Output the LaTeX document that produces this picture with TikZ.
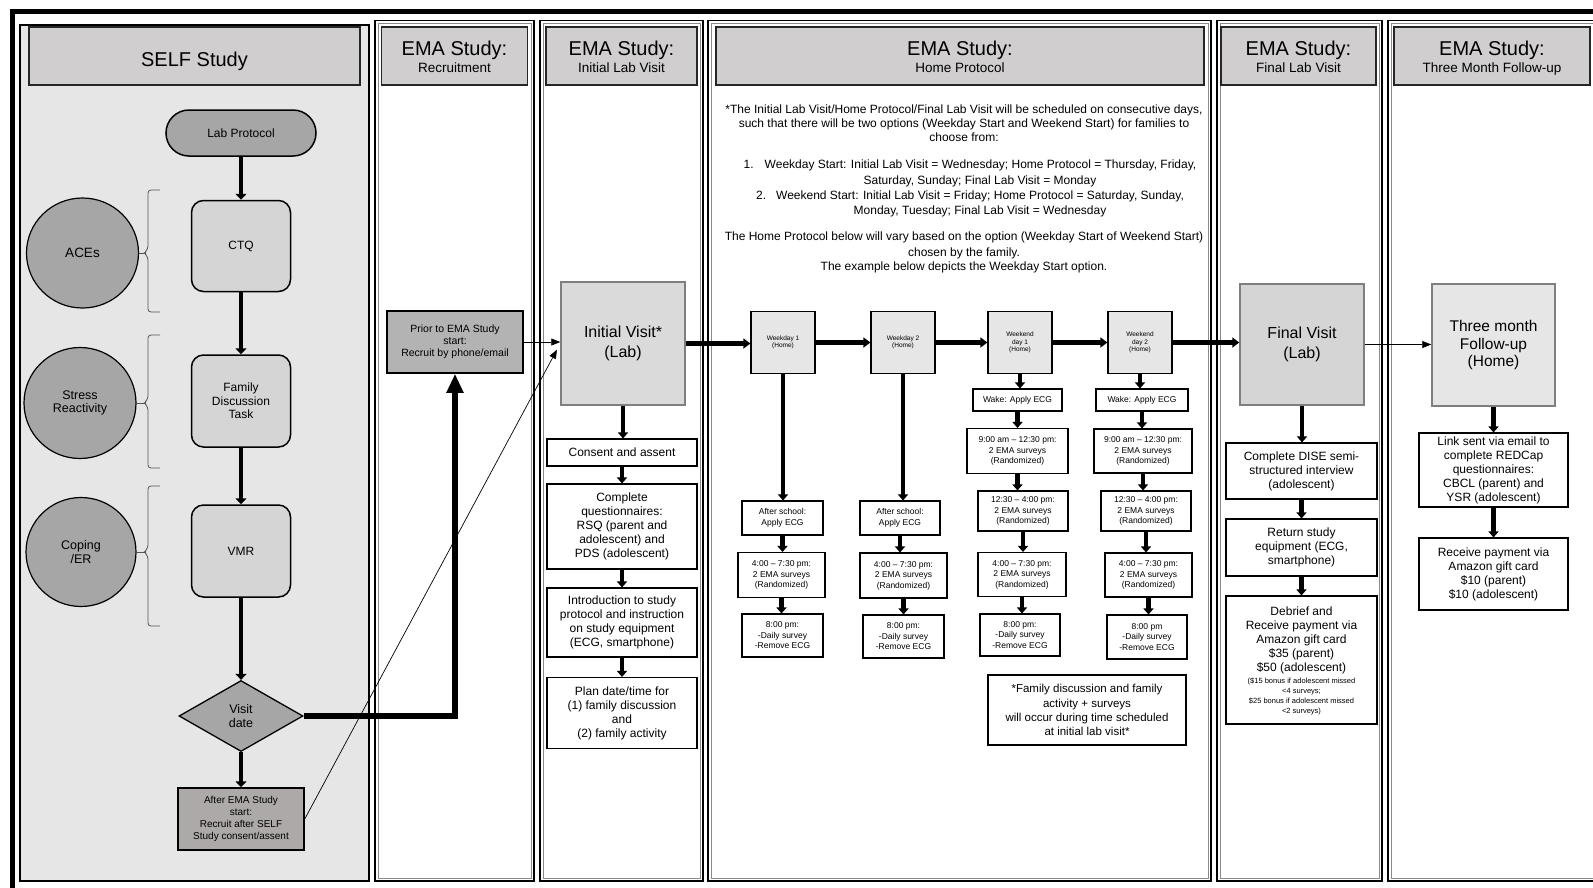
\documentclass[tikz,border=0pt]{standalone}
\usepackage{fontspec}
\setmainfont{Liberation Sans}
\usetikzlibrary{arrows.meta,shapes.geometric,calc}
\definecolor{panelgray}{HTML}{E6E6E6}
\definecolor{hdrgray}{HTML}{D0CECE}
\definecolor{darkfill}{HTML}{A6A6A6}
\definecolor{boxlight}{HTML}{D5D5D5}
\definecolor{recfill}{HTML}{B3B3B3}
\definecolor{afterfill}{HTML}{ADA9A9}
\definecolor{visitfill}{HTML}{DADADA}
\definecolor{dayfill}{HTML}{E6E6E6}
\definecolor{edgegray}{HTML}{7F7F7F}
\definecolor{bracegray}{HTML}{555555}
\definecolor{innerline}{HTML}{8A8A8A}
\newcommand{\myfs}[2]{\fontsize{#1}{#2}\selectfont}
\tikzset{
  hdr/.style={draw=black!85, line width=1.6pt, fill=hdrgray, inner sep=0pt},
  ttl/.style={font=\myfs{20}{22}, anchor=base, inner sep=0pt},
  subttl/.style={font=\myfs{13.5}{15}, anchor=base, inner sep=0pt},
  sz/.style 2 args={minimum width=#1, minimum height=#2},
  selfbox/.style={draw=black, line width=1.5pt, fill=boxlight, rounded corners=12pt, inner sep=0pt, align=center, font=\myfs{12}{13.7}},
  circ/.style={ellipse, draw=black, line width=1.2pt, fill=darkfill, inner sep=0pt, align=center, font=\myfs{12.5}{13.2}},
  bracestyle/.style={draw=bracegray, line width=0.8pt},
  wbox/.style={draw=black, line width=1.1pt, fill=white, inner sep=0pt, align=center},
  bigbox/.style={draw=edgegray, line width=1.5pt, inner sep=0pt, align=center, font=\myfs{16}{19.5}},
  daybox/.style={draw=black, line width=1.2pt, fill=dayfill, inner sep=0pt, align=center, font=\myfs{6.5}{7.5}},
  smalltxt/.style={font=\myfs{8.5}{10.5}},
  midtxt/.style={font=\myfs{12}{14}},
  hptext/.style={font=\myfs{12}{14}, anchor=base, inner sep=0pt},
  selfarr/.style={line width=4.5pt, -{Triangle[width=11pt,length=6pt]}},
  colarr/.style={line width=4.5pt, -{Triangle[width=10pt,length=6pt]}},
  bigarr/.style={line width=5.5pt, line join=miter, -{Triangle[width=16pt,length=19pt]}},
  harr/.style={line width=4.5pt, -{Triangle[width=10pt,length=7pt]}},
  thinarr/.style={line width=0.7pt, -{Triangle[width=7pt,length=9pt]}},
}
\begin{document}
\begin{tikzpicture}[x=1pt,y=-1pt]
\useasboundingbox (0,0) rectangle (1593,887);
\fill[white] (0,0) rectangle (1593,887);
% outer frame
\draw[line width=4.5pt] (10,11.3) -- (1600,11.3);
\draw[line width=5pt] (12.5,9) -- (12.5,890);
% panels
\draw[fill=panelgray, line width=1.2pt] (20,25) rectangle (369,881);
\foreach \pa/\pb in {375/534,540/703,708/1211,1217/1382,1388/1640}{
  \draw[line width=1.2pt] (\pa,20.5) rectangle (\pb,881);
  \draw[draw=innerline, line width=0.45pt] (\pa+2.8,23.3) rectangle (\pb-2.8,878.2);
}
% headers
\node[hdr, sz={331pt}{58pt}] (hself) at (194.5,56) {};
\node[ttl] (tself) at (194.5,66.5) {SELF Study};
\node[hdr, sz={146pt}{58pt}] (hrec) at (454.5,56) {};
\node[ttl] (trec) at (454.5,55) {EMA Study:};
\node[subttl] (srec) at (454.5,72.5) {Recruitment};
\node[hdr, sz={151pt}{58pt}] (hini) at (621.5,56) {};
\node[ttl] (tini) at (621.5,55) {EMA Study:};
\node[subttl] (sini) at (621.5,72.5) {Initial Lab Visit};
\node[hdr, sz={488pt}{58pt}] (hhome) at (960,56) {};
\node[ttl] (thome) at (960,55) {EMA Study:};
\node[subttl] (shome) at (960,72.5) {Home Protocol};
\node[hdr, sz={155pt}{58pt}] (hfin) at (1298.5,56) {};
\node[ttl] (tfin) at (1298.5,55) {EMA Study:};
\node[subttl] (sfin) at (1298.5,72.5) {Final Lab Visit};
\node[hdr, sz={196pt}{58pt}] (hthree) at (1492,56) {};
\node[ttl] (tthree) at (1492,55) {EMA Study:};
\node[subttl] (sthree) at (1492,72.5) {Three Month Follow-up};

% ---------- SELF study ----------
\node[selfbox, fill=darkfill, rounded corners=23pt, sz={150pt}{46pt}] (lab) at (241,133) {Lab Protocol};
\node[selfbox, sz={99pt}{91pt}] (ctq) at (241,246) {CTQ};
\node[selfbox, sz={99pt}{92pt}] (fam) at (241,401) {Family\\Discussion\\Task};
\node[selfbox, sz={99pt}{92pt}] (vmr) at (241,551) {VMR};
\node[diamond, draw=black, line width=1.3pt, fill=darkfill, sz={124pt}{71pt}, inner sep=0pt, align=center, font=\myfs{12.5}{13.5}] (visit) at (241,716) {Visit\\date};
\node[draw=black, line width=1.5pt, fill=afterfill, sz={126pt}{62pt}, inner sep=0pt, align=center, font=\myfs{10}{12}] (after) at (241,819) {After EMA Study\\start:\\Recruit after SELF\\Study consent/assent};

\node[circ, sz={112pt}{110pt}, font=\myfs{13.5}{15}] (aces) at (82.5,253) {ACEs};
\node[circ, sz={112pt}{111pt}] (stress) at (80,403) {Stress\\Reactivity};
\node[circ, sz={110pt}{109pt}] (coping) at (81,552) {Coping\\/ER};

\draw[bracestyle, rounded corners=3pt] (160,190) -- (148,190) -- (148,249) -- (144,253) -- (148,257) -- (148,312) -- (160,312);
\draw[bracestyle] (aces.east) -- (144.5,253);
\draw[bracestyle, rounded corners=3pt] (160,335) -- (148,335) -- (148,399) -- (144,403) -- (148,407) -- (148,468) -- (160,468);
\draw[bracestyle] (stress.east) -- (144.5,403);
\draw[bracestyle, rounded corners=3pt] (160,486) -- (148,486) -- (148,548) -- (144,552) -- (148,556) -- (148,626) -- (160,626);
\draw[bracestyle] (coping.east) -- (144.5,552);

\draw[selfarr] (lab.south) -- (ctq.north);
\draw[selfarr] (ctq.south) -- (fam.north);
\draw[selfarr] (fam.south) -- (vmr.north);
\draw[selfarr] (vmr.south) -- (visit.north);
\draw[selfarr] (visit.south) -- (after.north);

% ---------- Recruitment ----------
\node[draw=black, line width=1.5pt, fill=recfill, sz={136pt}{62pt}, inner sep=0pt, align=center, font=\myfs{10.5}{12}] (prior) at (455,342) {Prior to EMA Study\\start:\\Recruit by phone/email};
\draw[bigarr] (visit.east) -| (prior.south);

% ---------- Initial lab visit ----------
\node[bigbox, fill=visitfill, sz={124pt}{123pt}] (init) at (623,343.5) {Initial Visit*\\(Lab)};
\node[wbox, midtxt, sz={150pt}{27pt}] (consent) at (622,452.5) {Consent and assent};
\node[wbox, midtxt, sz={150pt}{85pt}] (quest) at (622,526.5) {Complete\\questionnaires:\\RSQ (parent and\\adolescent) and\\PDS (adolescent)};
\node[wbox, midtxt, sz={150pt}{69pt}] (intro) at (622,622.5) {Introduction to study\\protocol and instruction\\on study equipment\\(ECG, smartphone)};
\node[wbox, midtxt, sz={150pt}{71pt}] (plan) at (622,713) {Plan date/time for\\(1) family discussion\\and\\(2) family activity};
\draw[colarr] (init.south) -- (init.south |- consent.north);
\draw[colarr] (consent.south) -- (quest.north);
\draw[colarr] (quest.south) -- (intro.north);
\draw[colarr] (intro.south) -- (plan.north);

\draw[thinarr] (prior.east) -- (prior.east -| init.west);
\draw[thinarr, shorten >=7pt] (after.east) -- (init.west);

% ---------- Home protocol ----------
\node[hptext] (hp1) at (964,113.3) {*The Initial Lab Visit/Home Protocol/Final Lab Visit will be scheduled on consecutive days,};
\node[hptext] (hp2) at (964,127.5) {such that there will be two options (Weekday Start and Weekend Start) for families to};
\node[hptext] (hp3) at (964,141.5) {choose from:};
\node[hptext] (hp4) at (970,168.3) {1.\hspace{11pt}Weekday Start: Initial Lab Visit = Wednesday; Home Protocol = Thursday, Friday,};
\node[hptext] (hp5) at (980,184.5) {Saturday, Sunday; Final Lab Visit = Monday};
\node[hptext] (hp6) at (970,199) {2.\hspace{10pt}Weekend Start: Initial Lab Visit = Friday; Home Protocol = Saturday, Sunday,};
\node[hptext] (hp7) at (980,214) {Monday, Tuesday; Final Lab Visit = Wednesday};
\node[hptext] (hp8) at (964,240.8) {The Home Protocol below will vary based on the option (Weekday Start of Weekend Start)};
\node[hptext] (hp9) at (964,256.8) {chosen by the family.};
\node[hptext] (hp10) at (964,270.8) {The example below depicts the Weekday Start option.};

\node[daybox, sz={64pt}{62pt}] (w1) at (783,342.5) {Weekday 1\\(Home)};
\node[daybox, sz={64pt}{62pt}] (w2) at (903,342.5) {Weekday 2\\(Home)};
\node[daybox, sz={64pt}{62pt}] (we1) at (1020,342.5) {Weekend\\day 1\\(Home)};
\node[daybox, sz={64pt}{62pt}] (we2) at (1140,342.5) {Weekend\\day 2\\(Home)};

\node[wbox, smalltxt, sz={81pt}{34pt}] (as1) at (782.5,518) {After school:\\Apply ECG};
\node[wbox, smalltxt, sz={87pt}{45pt}] (ev1) at (781.5,575) {4:00 – 7:30 pm:\\2 EMA surveys\\(Randomized)};
\node[wbox, smalltxt, sz={81pt}{43pt}] (pm1) at (782.5,635.5) {8:00 pm:\\-Daily survey\\-Remove ECG};

\node[wbox, smalltxt, sz={80pt}{34pt}] (as2) at (900,518) {After school:\\Apply ECG};
\node[wbox, smalltxt, sz={87pt}{45pt}] (ev2) at (903.5,575.5) {4:00 – 7:30 pm:\\2 EMA surveys\\(Randomized)};
\node[wbox, smalltxt, sz={81pt}{43pt}] (pm2) at (903.5,636.5) {8:00 pm:\\-Daily survey\\-Remove ECG};

\node[wbox, smalltxt, sz={89pt}{22pt}] (wk1) at (1017.5,400) {Wake: Apply ECG};
\node[wbox, smalltxt, sz={101pt}{45pt}] (am1) at (1017.5,451) {9:00 am – 12:30 pm:\\2 EMA surveys\\(Randomized)};
\node[wbox, smalltxt, sz={90pt}{40pt}] (nn1) at (1023,511) {12:30 – 4:00 pm:\\2 EMA surveys\\(Randomized)};
\node[wbox, smalltxt, sz={88pt}{44pt}] (ev3) at (1022,574.5) {4:00 – 7:30 pm:\\2 EMA surveys\\(Randomized)};
\node[wbox, smalltxt, sz={80pt}{42pt}] (pm3) at (1020,635) {8:00 pm:\\-Daily survey\\-Remove ECG};

\node[wbox, smalltxt, sz={92pt}{22pt}] (wk2) at (1142,400) {Wake: Apply ECG};
\node[wbox, smalltxt, sz={98pt}{44pt}] (am2) at (1143,451) {9:00 am – 12:30 pm:\\2 EMA surveys\\(Randomized)};
\node[wbox, smalltxt, sz={90pt}{40pt}] (nn2) at (1146,511) {12:30 – 4:00 pm:\\2 EMA surveys\\(Randomized)};
\node[wbox, smalltxt, sz={87pt}{44pt}] (ev4) at (1148.5,575) {4:00 – 7:30 pm:\\2 EMA surveys\\(Randomized)};
\node[wbox, smalltxt, sz={80pt}{44pt}] (pm4) at (1147,637) {8:00 pm\\-Daily survey\\-Remove ECG};

\node[wbox, font=\myfs{11.5}{14.2}, sz={198pt}{70pt}] (note) at (1087,710) {*Family discussion and family\\activity + surveys\\will occur during time scheduled\\at initial lab visit*};

\draw[colarr] (w1.south) -- (w1.south |- as1.north);
\draw[colarr] (as1.south) -- (as1.south |- ev1.north);
\draw[colarr] (ev1.south) -- (ev1.south |- pm1.north);
\draw[colarr] (w2.south) -- (w2.south |- as2.north);
\draw[colarr] (as2.south) -- (as2.south |- ev2.north);
\draw[colarr] (ev2.south) -- (ev2.south |- pm2.north);
\draw[colarr] (we1.south) -- (we1.south |- wk1.north);
\draw[colarr] (wk1.south) -- (wk1.south |- am1.north);
\draw[colarr] (am1.south) -- (am1.south |- nn1.north);
\draw[colarr] (nn1.south) -- (nn1.south |- ev3.north);
\draw[colarr] (ev3.south) -- (ev3.south |- pm3.north);
\draw[colarr] (we2.south) -- (we2.south |- wk2.north);
\draw[colarr] (wk2.south) -- (wk2.south |- am2.north);
\draw[colarr] (am2.south) -- (am2.south |- nn2.north);
\draw[colarr] (nn2.south) -- (nn2.south |- ev4.north);
\draw[colarr] (ev4.south) -- (ev4.south |- pm4.north);

% ---------- Final lab visit ----------
\node[bigbox, fill=boxlight, sz={124pt}{121pt}] (final) at (1302,344.5) {Final Visit\\(Lab)};
\node[wbox, midtxt, sz={151pt}{56pt}] (dise) at (1301.5,471) {Complete DISE semi-\\structured interview\\(adolescent)};
\node[wbox, midtxt, sz={151pt}{57pt}] (ret) at (1301.5,547.5) {Return study\\equipment (ECG,\\smartphone)};
\node[wbox, sz={151pt}{128pt}] (debrief) at (1301.5,660) {};
\node[midtxt, align=center, anchor=north, inner sep=0pt] (debt) at (1301.5,607) {Debrief and\\Receive payment via\\Amazon gift card\\\$35 (parent)\\\$50 (adolescent)};
\node[font=\myfs{7.5}{10}, align=center, anchor=north, inner sep=0pt] (debs) at (1301.5,678) {(\$15 bonus if adolescent missed\\<4 surveys;\\\$25 bonus if adolescent missed\\<2 surveys)};
\draw[colarr] (final.south) -- (final.south |- dise.north);
\draw[colarr] (dise.south) -- (ret.north);
\draw[colarr] (ret.south) -- (debrief.north);

% ---------- Three month ----------
\node[bigbox, fill=dayfill, sz={123pt}{122pt}, font=\myfs{15.5}{17.8}] (three) at (1493.5,345) {Three month\\Follow-up\\(Home)};
\node[wbox, midtxt, sz={149pt}{74pt}] (link) at (1493.5,470) {Link sent via email to\\complete REDCap\\questionnaires:\\CBCL (parent) and\\YSR (adolescent)};
\node[wbox, midtxt, sz={149pt}{72pt}] (recv) at (1493.5,574) {Receive payment via\\Amazon gift card\\\$10 (parent)\\\$10 (adolescent)};
\draw[colarr] (three.south) -- (link.north);
\draw[colarr] (link.south) -- (recv.north);

% horizontal chain
\draw[harr] (init.east) -- (init.east -| w1.west);
\draw[harr] (w1.east) -- (w2.west);
\draw[harr] (w2.east) -- (we1.west);
\draw[harr] (we1.east) -- (we2.west);
\draw[harr] (we2.east) -- (we2.east -| final.west);
\draw[thinarr] (final.east) -- (final.east -| three.west);
\end{tikzpicture}
\end{document}
